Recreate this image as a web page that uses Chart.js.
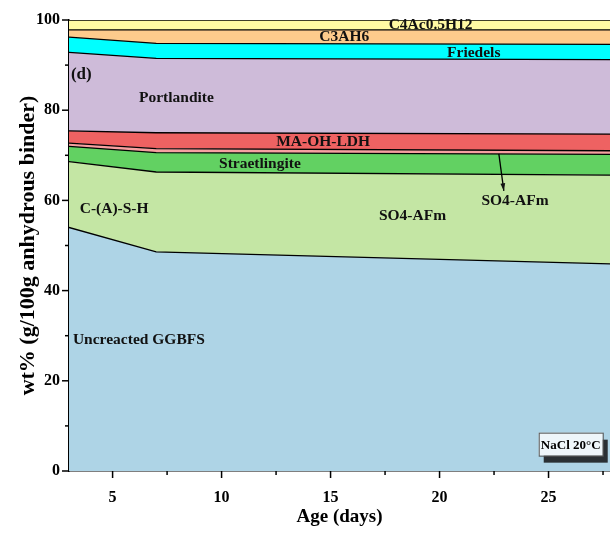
<!DOCTYPE html>
<html>
<head>
<meta charset="utf-8">
<script src="https://cdn.jsdelivr.net/npm/chart.js@4.4.1/dist/chart.umd.min.js"></script>
<style>
  html,body{margin:0;padding:0;background:#fff;overflow:hidden;}
  #wrap{width:610px;height:533px;}
</style>
</head>
<body>
<div id="wrap"><canvas id="c" width="610" height="533"></canvas></div>
<script>
/* DATA (g/100g anhydrous binder, layer thickness) */
const ages = [3, 7, 28];
const phaseNames = ["Uncreacted GGBFS", "C-(A)-S-H", "Straetlingite", "SO4-AFm", "MA-OH-LDH", "Portlandite", "Friedels", "C3AH6", "C4Ac0.5H12"];
const ggbfs         = [54.0, 48.6, 45.9];
const csh           = [14.6, 17.7, 19.7];
const straetlingite = [3.4, 4.3, 4.6];
const so4afm        = [0.7, 0.9, 0.8];
const maohldh       = [2.7, 3.5, 3.7];
const portlandite   = [17.4, 16.5, 16.5];
const friedels      = [3.4, 3.3, 3.4];
const c3ah6         = [1.6, 3.0, 3.2];
const c4ac          = [2.2, 2.2, 2.2];
const xTicks = [5, 10, 15, 20, 25];
const yTicks = [0, 20, 40, 60, 80, 100];

const series = [ggbfs, csh, straetlingite, so4afm, maohldh, portlandite, friedels, c3ah6, c4ac];
const colors = ["#AED4E6", "#C4E6A4", "#62D162", "#F6A0A0", "#EE6262", "#CEBBD9", "#00FFFF", "#FDCB8C", "#FFFAA3"];

const SERIF = '"Liberation Serif", "Times New Roman", serif';

/* text on the chart, placed in data units */
const notes = [
  {t:"C4Ac0.5H12", x:19.59, y:98.9, a:"center"},
  {t:"C3AH6", x:15.63, y:96.2, a:"center"},
  {t:"Friedels", x:21.57, y:92.7, a:"center"},
  {t:"(d)", x:3.09, y:88.0, a:"left", s:17},
  {t:"Portlandite", x:7.93, y:82.7, a:"center"},
  {t:"MA-OH-LDH", x:14.66, y:72.9, a:"center"},
  {t:"Straetlingite", x:11.76, y:68.0, a:"center"},
  {t:"C-(A)-S-H", x:5.07, y:58.1, a:"center"},
  {t:"SO4-AFm", x:18.76, y:56.5, a:"center"},
  {t:"SO4-AFm", x:23.46, y:59.9, a:"center"},
  {t:"Uncreacted GGBFS", x:3.18, y:29.0, a:"left"}
];

const datasets = series.map((vals, i) => ({
  label: phaseNames[i],
  data: vals.map((v, j) => ({x: ages[j], y: v})),
  backgroundColor: colors[i],
  borderColor: "#000",
  borderWidth: 1.3,
  pointRadius: 0,
  tension: 0,
  fill: i === 0 ? "origin" : "-1"
}));

const extras = {
  id: "extras",
  afterDraw(chart){
    const ctx = chart.ctx, xs = chart.scales.x, ys = chart.scales.y;
    const area = chart.chartArea;
    ctx.save();
    // tick marks
    ctx.strokeStyle = "#000";
    ctx.lineWidth = 1.5;
    for(let v = 5; v < xs.max; v += 2.5){
      const px = xs.getPixelForValue(v);
      const len = v % 5 === 0 ? 7 : 4;
      ctx.beginPath(); ctx.moveTo(px, area.bottom); ctx.lineTo(px, area.bottom + len); ctx.stroke();
    }
    for(let v = 0; v <= 100; v += 10){
      const py = ys.getPixelForValue(v);
      const len = v % 20 === 0 ? 7 : 4;
      ctx.beginPath(); ctx.moveTo(area.left, py); ctx.lineTo(area.left - len, py); ctx.stroke();
    }
    // labels
    ctx.fillStyle = "#111";
    ctx.textBaseline = "middle";
    notes.forEach(n => {
      ctx.font = "bold " + (n.s || 15.5) + "px " + SERIF;
      ctx.textAlign = n.a;
      ctx.fillText(n.t, xs.getPixelForValue(n.x), ys.getPixelForValue(n.y));
    });
    // arrow to the thin SO4-AFm layer
    const x1 = xs.getPixelForValue(22.72), y1 = ys.getPixelForValue(70.3);
    const x2 = xs.getPixelForValue(22.95), y2 = ys.getPixelForValue(62.1);
    ctx.lineWidth = 1.3;
    ctx.beginPath(); ctx.moveTo(x1, y1); ctx.lineTo(x2, y2); ctx.stroke();
    const ang = Math.atan2(y2 - y1, x2 - x1);
    ctx.beginPath();
    ctx.moveTo(x2, y2);
    ctx.lineTo(x2 - 8*Math.cos(ang - 0.3), y2 - 8*Math.sin(ang - 0.3));
    ctx.lineTo(x2 - 8*Math.cos(ang + 0.3), y2 - 8*Math.sin(ang + 0.3));
    ctx.closePath(); ctx.fill();
    // NaCl 20°C box
    const bx = xs.getPixelForValue(24.55), by = ys.getPixelForValue(8.5);
    const bw = 64, bh = 23;
    ctx.fillStyle = "#2A3034";
    ctx.fillRect(bx + 5, by + 7, bw, bh);
    ctx.fillStyle = "#EEF6FA";
    ctx.fillRect(bx, by, bw, bh);
    ctx.strokeStyle = "#555"; ctx.lineWidth = 1;
    ctx.strokeRect(bx + 0.5, by + 0.5, bw, bh);
    ctx.fillStyle = "#000";
    ctx.font = "bold 13px " + SERIF;
    ctx.textAlign = "center";
    ctx.fillText("NaCl 20°C", bx + bw/2, by + bh/2 + 1);
    ctx.restore();
  }
};

new Chart(document.getElementById("c"), {
  type: "line",
  data: { datasets },
  options: {
    responsive: false,
    animation: false,
    layout: { padding: { top: 20, right: 0, left: 0, bottom: 0 } },
    plugins: { legend: { display: false }, tooltip: { enabled: false } },
    scales: {
      x: {
        type: "linear", min: 3, max: 27.82,
        afterBuildTicks: s => { s.ticks = xTicks.map(v => ({value: v})); },
        afterFit: s => { s.height = 62; },
        grid: { display: false, drawTicks: false },
        border: { display: true, color: "#000", width: 1.5 },
        ticks: { color: "#000", padding: 17, font: { family: SERIF, size: 16, weight: "bold" } },
        title: { display: true, text: "Age (days)", color: "#000", padding: { top: 0, bottom: 5 },
                 font: { family: SERIF, size: 19, weight: "bold" } }
      },
      y: {
        stacked: true, min: 0, max: 100,
        afterBuildTicks: s => { s.ticks = yTicks.map(v => ({value: v})); },
        afterFit: s => { s.width = 69; },
        grid: { display: false, drawTicks: false },
        border: { display: true, color: "#000", width: 1.5 },
        ticks: { color: "#000", padding: 9, font: { family: SERIF, size: 16, weight: "bold" } },
        title: { display: true, text: "wt% (g/100g anhydrous binder)", color: "#000", padding: { top: 15, bottom: 0 },
                 font: { family: SERIF, size: 22, weight: "bold" } }
      }
    }
  },
  plugins: [extras]
});
</script>
</body>
</html>
